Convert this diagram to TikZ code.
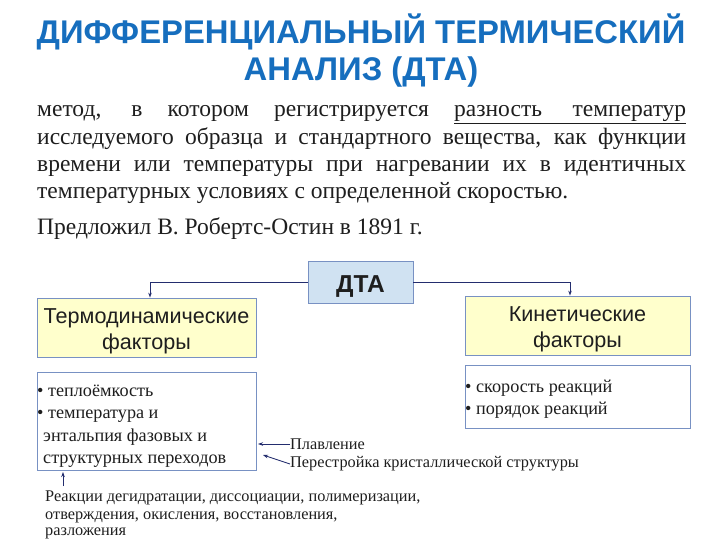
\documentclass[tikz,border=0pt]{standalone}
\usepackage{fontspec}
\setmainfont{Liberation Serif}
\newfontfamily\sansf{Liberation Sans}
\usetikzlibrary{arrows.meta}
\definecolor{titleblue}{RGB}{22,110,190}
\definecolor{boxblue}{RGB}{208,226,242}
\definecolor{boxyellow}{RGB}{255,255,204}
\definecolor{edgeblue}{RGB}{120,145,195}
\definecolor{linkblue}{RGB}{35,45,110}
\definecolor{textgray}{RGB}{30,30,30}
\tikzset{
  titletext/.style={font=\sansf\bfseries\fontsize{32.8}{37}\selectfont, text=titleblue, align=center},
  factorbox/.style={draw=edgeblue, fill=boxyellow, line width=0.8pt, font=\sansf\fontsize{21.6}{25.5}\selectfont, text=textgray, align=center, inner sep=0pt},
  listbox/.style={draw=edgeblue, fill=white, line width=0.8pt},
  listtext/.style={anchor=base west, inner sep=0pt, align=left, text=textgray, font=\fontsize{18.2}{22.3}\selectfont},
  link/.style={draw=linkblue, line width=0.8pt, -{Stealth[length=5pt,width=3.5pt]}},
  serifnote/.style={font=\fontsize{16.3}{20}\selectfont, text=textgray, inner sep=0pt},
  paraline/.style={anchor=base west, inner sep=0pt, text=textgray, font=\fontsize{23.5}{27}\selectfont}
}
\begin{document}
\begin{tikzpicture}[x=1pt,y=-1pt]
\useasboundingbox (0,0) rectangle (720,540);
\fill[white] (0,0) rectangle (720,540);
% title
\node[titletext] (title) at (361,51) {ДИФФЕРЕНЦИАЛЬНЫЙ ТЕРМИЧЕСКИЙ\\АНАЛИЗ (ДТА)};
% paragraph
\node[paraline] (p1) at (37,117) {\makebox[649pt][s]{метод, в котором регистрируется \underline{\makebox[232pt][s]{разность температур}}}};
\node[paraline] (p2) at (37,145) {\makebox[649pt][s]{исследуемого образца и стандартного вещества, как функции}};
\node[paraline] (p3) at (37,172) {\makebox[649pt][s]{времени или температуры при нагревании их в идентичных}};
\node[paraline] (p4) at (37,199) {температурных условиях с определенной скоростью.};
\node[paraline] (author) at (37,234) {Предложил В. Робертс-Остин в 1891 г.};
% DTA box
\node[draw=edgeblue, fill=boxblue, line width=0.8pt, minimum width=105pt, minimum height=42pt, inner sep=0pt,
      font=\sansf\bfseries\fontsize{24.5}{28}\selectfont, text=textgray] (dta) at (360.5,282) {\rule{0pt}{26pt}ДТА};
% factor boxes
\node[factorbox, minimum width=219pt, minimum height=59pt] (thermo) at (146.5,327.5) {\rule{0pt}{22pt}Термодинамические\\факторы};
\node[factorbox, minimum width=225pt, minimum height=59pt] (kin) at (577.5,325.5) {\rule{0pt}{22pt}Кинетические\\факторы};
% list boxes
\node[listbox, minimum width=219pt, minimum height=98pt] (tlist) at (146.5,421) {};
\node[listbox, minimum width=225pt, minimum height=63pt] (klist) at (577.5,396.5) {};
\node[listtext] (t1) at (37,396) {• теплоёмкость};
\node[listtext] (t2) at (37,418) {• температура и};
\node[listtext] (t3) at (43,441) {энтальпия фазовых и};
\node[listtext] (t4) at (43,463) {структурных переходов};
\node[listtext] (k1) at (465,392) {• скорость реакций};
\node[listtext] (k2) at (465,414) {• порядок реакций};
% connectors from DTA
\draw[link] (dta.west) -| (thermo.north -| 150,0);
\draw[link] (dta.east) -| (kin.north -| 570,0);
% notes
\node[serifnote, anchor=west] (melt) at (290,444) {Плавление};
\node[serifnote, anchor=west] (restr) at (290,464) {Перестройка кристаллической структуры};
\coordinate (m1) at (258,444);
\coordinate (m2) at (263,455);
\draw[link] (melt.west) -- (m1);
\draw[link] (restr.west) -- (m2);
\node[serifnote, anchor=base west] (r1t) at (45,501) {Реакции дегидратации, диссоциации, полимеризации,};
\node[serifnote, anchor=base west] (r2t) at (45,519) {отверждения, окисления, восстановления,};
\node[serifnote, anchor=base west] (r3t) at (45,535) {разложения};
\coordinate (ra) at (63,486);
\coordinate (rb) at (63,472);
\draw[link] (ra) -- (rb);
\end{tikzpicture}
\end{document}
